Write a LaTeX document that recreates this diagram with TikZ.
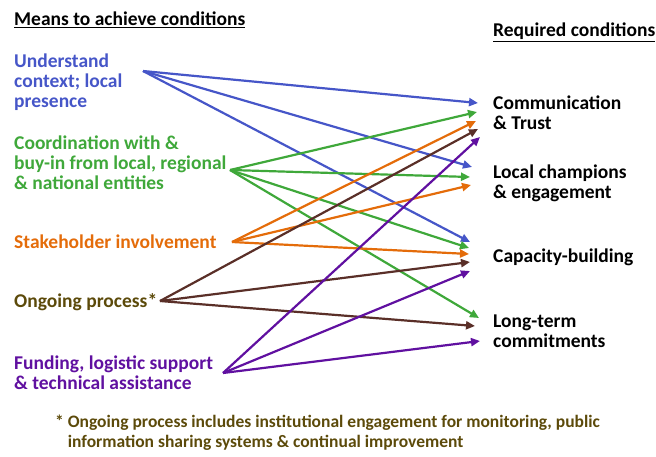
\documentclass[tikz,border=0pt]{standalone}
\usepackage{fontspec}
\setmainfont{Carlito}
\usetikzlibrary{arrows.meta}

\definecolor{meansblue}{HTML}{4656C8}
\definecolor{meansgreen}{HTML}{3FA83A}
\definecolor{meansorange}{HTML}{E46C0A}
\definecolor{ongoingtext}{HTML}{5C4A0A}
\definecolor{ongoingline}{HTML}{5A2F28}
\definecolor{meanspurple}{HTML}{6010A0}

\tikzset{
  lbl/.style={anchor=west, inner sep=0pt, align=left,
    font=\fontsize{19.5}{20}\selectfont\bfseries},
  link/.style={line width=2.2pt, -{Triangle[length=9pt,width=8pt]}}
}

\begin{document}
\begin{tikzpicture}[x=1pt, y=-1pt]
		\useasboundingbox (0, 0) rectangle (656, 456);

		% headings
		\node [lbl] (means) at (14, 20) {\underline{Means to achieve conditions}};
		\node [lbl] (req) at (493, 32) {\underline{Required conditions}};

		% means
		\node [lbl, meansblue] (und) at (14, 82) {Understand\\context; local\\presence};
		\node [lbl, meansgreen] (coord) at (14, 163) {Coordination with \&\\buy-in from local, regional\\\& national entities};
		\node [lbl, meansorange] (stake) at (14, 242) {Stakeholder involvement};
		\node [lbl, ongoingtext] (ongo) at (14, 302) {Ongoing process*};
		\node [lbl, meanspurple] (fund) at (14, 373) {Funding, logistic support\\\& technical assistance};

		% conditions
		\node [lbl] (comm) at (493, 113) {Communication\\\& Trust};
		\node [lbl] (champ) at (493, 183) {Local champions\\\& engagement};
		\node [lbl] (capa) at (493, 257) {Capacity-building};
		\node [lbl] (longt) at (493, 331) {Long-term\\commitments};

		% footnote
		\node [lbl, ongoingtext, font=\fontsize{17.5}{20}\selectfont\bfseries] (note) at (55, 433) {* Ongoing process includes institutional engagement for monitoring, public\\\hphantom{* }information sharing systems \& continual improvement};

		% start points
		\coordinate (und-s) at (143, 71);
		\coordinate (coord-s) at (230, 170);
		\coordinate (stake-s) at (232, 242);
		\coordinate (ongo-s) at (160, 301);
		\coordinate (fund-s) at (223, 373);

		% end points
		\coordinate (comm-1) at (478, 103);
		\coordinate (comm-2) at (477, 112);
		\coordinate (comm-3) at (476, 121);
		\coordinate (comm-4) at (478, 129);
		\coordinate (comm-5) at (480, 137);
		\coordinate (champ-1) at (472, 167);
		\coordinate (champ-2) at (470, 177);
		\coordinate (champ-3) at (471, 185);
		\coordinate (capa-1) at (470, 242);
		\coordinate (capa-2) at (469, 248);
		\coordinate (capa-3) at (469, 254);
		\coordinate (capa-4) at (470, 262);
		\coordinate (capa-5) at (470, 271);
		\coordinate (longt-1) at (479, 318);
		\coordinate (longt-2) at (475, 326);
		\coordinate (longt-3) at (480, 341);

		\draw [link, meansblue] (und-s) -- (comm-1);
		\draw [link, meansblue] (und-s) -- (champ-1);
		\draw [link, meansblue] (und-s) -- (capa-1);

		\draw [link, meansgreen] (coord-s) -- (comm-2);
		\draw [link, meansgreen] (coord-s) -- (champ-2);
		\draw [link, meansgreen] (coord-s) -- (capa-2);
		\draw [link, meansgreen] (coord-s) -- (longt-1);

		\draw [link, meansorange] (stake-s) -- (comm-3);
		\draw [link, meansorange] (stake-s) -- (champ-3);
		\draw [link, meansorange] (stake-s) -- (capa-3);

		\draw [link, ongoingline] (ongo-s) -- (comm-4);
		\draw [link, ongoingline] (ongo-s) -- (capa-4);
		\draw [link, ongoingline] (ongo-s) -- (longt-2);

		\draw [link, meanspurple] (fund-s) -- (comm-5);
		\draw [link, meanspurple] (fund-s) -- (capa-5);
		\draw [link, meanspurple] (fund-s) -- (longt-3);
	\end{tikzpicture}
\end{document}
